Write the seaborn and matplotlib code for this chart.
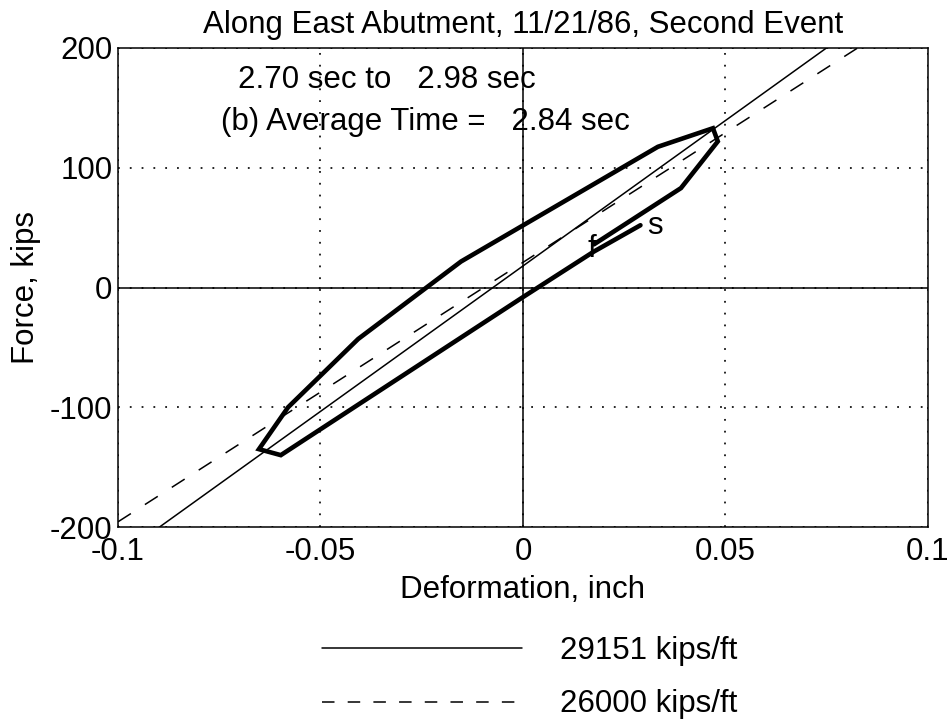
import matplotlib
matplotlib.use("Agg")
import matplotlib.pyplot as plt
from matplotlib.lines import Line2D
import pandas as pd
import seaborn as sns

# Hysteresis loop along the east abutment, in time order (s -> f)
deformation = [0.0290, 0.0175, 0.0000, -0.0598, -0.0652, -0.0580, -0.0407,
               -0.0153, 0.0333, 0.0469, 0.0481, 0.0390, 0.0175]
force = [52.0, 30.0, -8.0, -140.0, -135.0, -100.0, -43.0,
         21.7, 117.5, 133.0, 122.0, 83.0, 36.0]

# Reference stiffness lines (kips/ft) with their force offsets (kips)
stiffness_labels = ["29151 kips/ft", "26000 kips/ft"]
stiffness_kips_per_ft = [29151, 26000]
stiffness_offsets = [18.0, 21.0]
line_deformation = [-0.1, 0.1]

x_ticks = [-0.1, -0.05, 0, 0.05, 0.1]
x_tick_labels = ["-0.1", "-0.05", "0", "0.05", "0.1"]
y_ticks = [-200, -100, 0, 100, 200]
y_tick_labels = ["-200", "-100", "0", "100", "200"]

title = "Along East Abutment, 11/21/86, Second Event"
time_window = "2.70 sec to   2.98 sec"
average_time = "(b) Average Time =   2.84 sec"

sns.set_style("white")
plt.rcParams["font.family"] = ["Liberation Sans", "DejaVu Sans"]
plt.rcParams["lines.scale_dashes"] = False
for key in ["text.color", "axes.labelcolor", "xtick.color", "ytick.color",
            "axes.edgecolor"]:
    plt.rcParams[key] = "black"
FS = 22.5

fig = plt.figure(figsize=(9.51, 7.22), dpi=100)
ax = fig.add_axes([0.12408, 0.27008, 0.85173, 0.66344])

# stiffness lines
styles = ["-", (0, (11, 12))]
for lab, k, b, ls in zip(stiffness_labels, stiffness_kips_per_ft,
                         stiffness_offsets, styles):
    df = pd.DataFrame({"Deformation": line_deformation,
                       "Force": [k / 12.0 * d + b for d in line_deformation]})
    sns.lineplot(data=df, x="Deformation", y="Force", ax=ax, color="black",
                 linewidth=1.1, linestyle=ls, label=lab, sort=False,
                 estimator=None)

# measured loop
loop = pd.DataFrame({"Deformation": deformation, "Force": force})
sns.lineplot(data=loop, x="Deformation", y="Force", ax=ax, color="black",
             linewidth=3.3, sort=False, estimator=None, legend=False,
             solid_joinstyle="miter")

ax.text(deformation[0] + 0.0016, force[0] - 1, "s", fontsize=FS,
        ha="left", va="center")
ax.text(deformation[-1] - 0.0005, force[-1] - 4, "f", fontsize=FS,
        ha="center", va="center")

# zero lines and dotted grid
ax.axhline(0, color="black", linewidth=1.1, zorder=1)
ax.axvline(0, color="black", linewidth=1.1, zorder=1)
ax.grid(True, color="black", linestyle=(0, (1.3, 7.2)), linewidth=1.2)

ax.set_xlim(-0.1, 0.1)
ax.set_ylim(-200, 200)
ax.set_xticks(x_ticks)
ax.set_xticklabels(x_tick_labels)
ax.set_yticks(y_ticks)
ax.set_yticklabels(y_tick_labels)
ax.tick_params(direction="in", length=5, width=1, labelsize=FS, colors="black")
ax.tick_params(axis="x", pad=7)
ax.tick_params(axis="y", pad=4)
for sp in ax.spines.values():
    sp.set_visible(True)
    sp.set_color("black")
    sp.set_linewidth(1.1)

ax.set_xlabel("Deformation, inch", fontsize=FS, labelpad=6)
ax.set_ylabel("Force, kips", fontsize=FS, labelpad=6)
ax.set_title(title, fontsize=FS, pad=11)

ax.text(-0.0704, 166.7, time_window, fontsize=FS, ha="left", va="baseline")
ax.text(-0.0746, 131.7, average_time, fontsize=FS, ha="left", va="baseline")

# legend keys below the axes
ax.get_legend().remove()
keys = [Line2D([], [], color="black", linewidth=1.1, linestyle="-"),
        Line2D([], [], color="black", linewidth=1.1,
               linestyle=(0, (9, 9.5)))]
fig.legend(keys, stiffness_labels, loc="upper left",
           bbox_to_anchor=(322 / 951, 1 - 636 / 722), frameon=False,
           fontsize=FS, handlelength=6.4, handletextpad=1.2, borderpad=0,
           borderaxespad=0, labelspacing=0.75)

fig.savefig("out.png", dpi=100)
